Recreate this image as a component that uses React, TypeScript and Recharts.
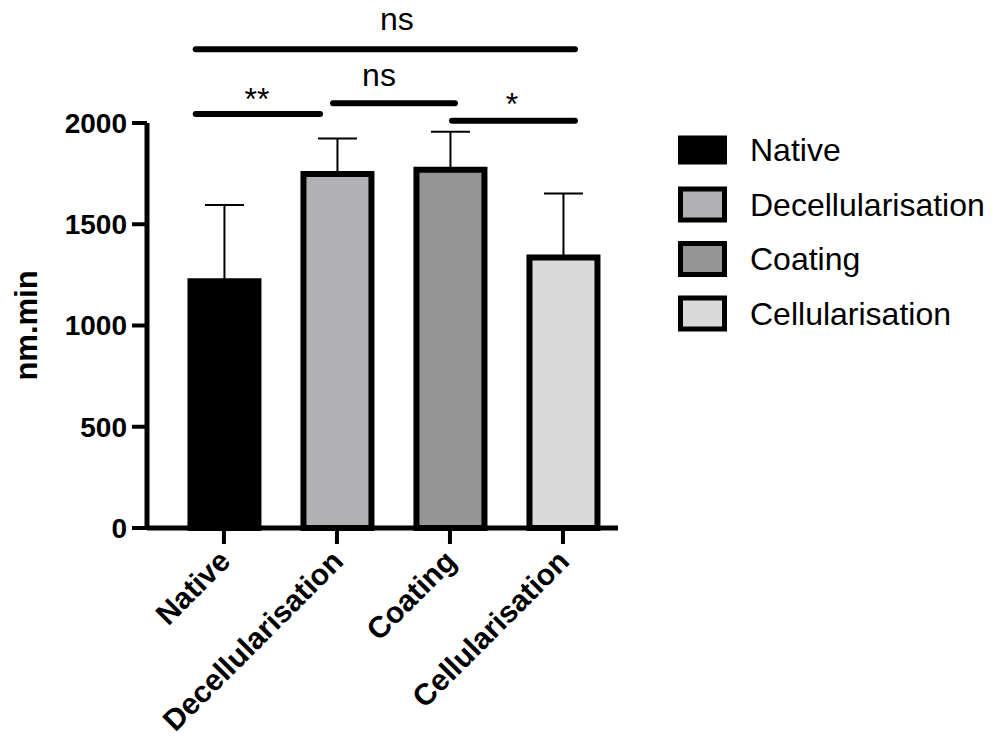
import { Bar, BarChart, Cell, ErrorBar, Legend, ReferenceDot, ReferenceLine, XAxis, YAxis } from 'recharts'

const groups = ['Native', 'Decellularisation', 'Coating', 'Cellularisation']
const means = [1219, 1748, 1769, 1336]
const sdUp = [376, 176, 188, 316]
const fills = ['#000000', '#b1b1b3', '#959595', '#dadada']
const yTicks = [0, 500, 1000, 1500, 2000]

// significance brackets (x in group index units)
const sigFrom = [-0.25, 0.965, 2.018, -0.25]
const sigTo = [0.85, 2.044, 3.106, 3.106]
const sigLevel = [2045, 2097, 2011, 2364]
const sigText = ['**', 'ns', '*', 'ns']
const sigTextX = [0.292, 1.372, 2.549, 1.531]
const sigTextY = [2064, 2183, 2039, 2458]

const font = '"Liberation Sans", Arial, Helvetica, sans-serif'

const data = groups.map((g, i) => ({ idx: i, name: g, value: means[i], err: [0, sdUp[i]] }))

const LegendBox = () => (
    <svg width={330} height={220} style={{ display: 'block' }}>
        {groups.map((g, i) => {
            const cy = 25 + i * 54.5
            return (
                <g key={g}>
                    {i === 0
                        ? <rect x={8} y={cy - 14.5} width={49} height={29} fill='#000' />
                        : <rect x={10.5} y={cy - 15.5} width={44} height={31} fill={fills[i]} stroke='#000' strokeWidth={5} />}
                    <text x={80} y={cy} dominantBaseline='central' fontSize={32} fontFamily={font} fill='#000'>{g}</text>
                </g>
            )
        })}
    </svg>
)

const AngledTick = ({ x, y, payload }: any) => {
    const px = x + 8
    const py = y + 19
    return (
        <text x={px} y={py} transform={`rotate(-45 ${px} ${py})`} textAnchor='end' fontSize={30} fontWeight='bold' fontFamily={font} fill='#000'>
            {groups[payload.value]}
        </text>
    )
}

const App = () => {
    return (
        <div style={{ position: 'absolute', left: 0, top: 0, background: '#fff' }}>
            <BarChart width={1000} height={742} data={data} margin={{ top: 123, right: 382, bottom: 114, left: 0 }}>
                <XAxis
                    type='number'
                    dataKey='idx'
                    domain={[-0.681, 3.487]}
                    ticks={[0, 1, 2, 3]}
                    interval={0}
                    height={100}
                    tickSize={16}
                    tickMargin={0}
                    stroke='#000'
                    strokeWidth={5}
                    tickLine={{ stroke: '#000', strokeWidth: 4 }}
                    tick={<AngledTick />}
                />
                <YAxis
                    domain={[0, 2000]}
                    ticks={yTicks}
                    width={147}
                    tickSize={15}
                    tickMargin={5}
                    stroke='#000'
                    strokeWidth={5}
                    tickLine={{ stroke: '#000', strokeWidth: 4 }}
                    tick={{ fill: '#000', fontSize: 28, fontWeight: 'bold', fontFamily: font }}
                    label={{ value: 'nm.min', angle: -90, position: 'insideLeft', offset: 26, style: { textAnchor: 'middle', fontSize: 31, fontWeight: 'bold', fontFamily: font, fill: '#000' } }}
                />
                <Legend layout='horizontal' verticalAlign='middle' align='center' wrapperStyle={{ left: 670, top: 125, width: 330 }} content={() => <LegendBox />} />
                <Bar dataKey='value' barSize={68} stroke='#000' strokeWidth={6} isAnimationActive={false}>
                    {data.map((d, i) => <Cell key={d.name} fill={fills[i]} />)}
                    <ErrorBar dataKey='err' direction='y' width={19.5} stroke='#000' strokeWidth={2} isAnimationActive={false} />
                </Bar>
                {sigFrom.map((x1, i) => (
                    <ReferenceLine key={'l' + i} ifOverflow='visible' segment={[{ x: x1, y: sigLevel[i] }, { x: sigTo[i], y: sigLevel[i] }]} stroke='#000' strokeWidth={6} strokeLinecap='round' />
                ))}
                {sigText.map((t, i) => (
                    <ReferenceDot key={'t' + i} x={sigTextX[i]} y={sigTextY[i]} r={0} ifOverflow='visible' fill='none' stroke='none'
                        label={(p: any) => <text x={p.viewBox.x} y={p.viewBox.y} textAnchor='middle' fontSize={32} fontFamily={font} fill='#000'>{t}</text>} />
                ))}
            </BarChart>
        </div>
    )
}

export default App
